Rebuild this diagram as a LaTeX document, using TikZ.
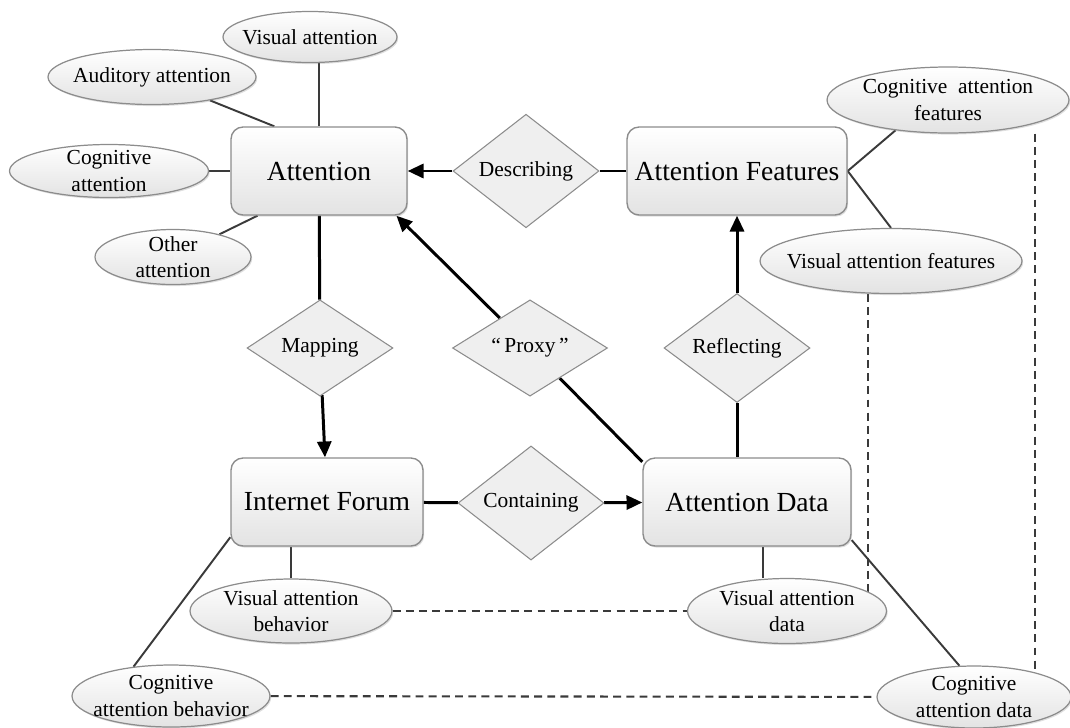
\documentclass[tikz,border=0pt]{standalone}
\usepackage{fontspec}
\setmainfont{Liberation Serif}
\usepackage{tikz}
\usetikzlibrary{shapes.geometric,arrows.meta,shadows,backgrounds}
\definecolor{edge}{HTML}{8C8C8C}
\definecolor{ink}{HTML}{3A3A3A}
\definecolor{dfill}{HTML}{EFEFEF}
\definecolor{sfill}{HTML}{E3E3E3}
\tikzset{
  entity/.style={rectangle, rounded corners=0.24cm, draw=edge, line width=0.8pt,
    top color=white, bottom color=sfill, minimum height=1.76cm, inner sep=0pt,
    font=\fontsize{15.7}{18}\selectfont,
    drop shadow={shadow xshift=0.7pt, shadow yshift=-0.9pt, opacity=0.25}},
  relation/.style={diamond, draw=edge, fill=dfill, line width=0.6pt,
    minimum width=2.92cm, minimum height=1.76cm, inner sep=0pt,
    font=\fontsize{12.2}{14}\selectfont},
  attr/.style={ellipse, draw=edge, line width=0.7pt, top color=white,
    bottom color=sfill, inner sep=0pt,
    drop shadow={shadow xshift=0.7pt, shadow yshift=-0.9pt, opacity=0.25}},
  attrtext/.style={align=center, inner sep=0pt, font=\fontsize{12.2}{15}\selectfont},
  link/.style={draw=ink, line width=1.1pt},
  relline/.style={draw=black, line width=1.7pt},
  relarrow/.style={relline, -{Triangle[length=9pt,width=8pt]}},
  dashline/.style={draw=ink, line width=1.2pt, dash pattern=on 4.5pt off 3pt}
}

\begin{document}
\begin{tikzpicture}[x=0.02cm, y=-0.02cm]
  \useasboundingbox (0,0) rectangle (1070,727);

  % entities
  \node[entity, minimum width=3.52cm] (attn)   at (319,171) {Attention};
  \node[entity, minimum width=4.4cm]  (feat)   at (737,171) {Attention Features};
  \node[entity, minimum width=3.84cm] (forum)  at (327,502) {Internet Forum};
  \node[entity, minimum width=4.16cm] (data)   at (747,502) {Attention Data};

  % relations
  \node[relation] (desc)  at (526,171) {Describing};
  \node[relation] (map)   at (320,348) {Mapping};
  \node[relation, minimum width=3.1cm] (proxy) at (530,348) {“\,Proxy\,”};
  \node[relation] (refl)  at (737,348) {Reflecting};
  \node[relation] (cont)  at (531,503) {Containing};

  % attributes
  \node[attr, minimum width=3.48cm, minimum height=1.02cm,
    label={[attrtext]center:Visual attention}] (visatt) at (310,37) {};
  \node[attr, minimum width=4.16cm, minimum height=1.1cm,
    label={[attrtext]center:Auditory attention}] (audatt) at (152,77) {};
  \node[attr, minimum width=3.98cm, minimum height=1.06cm,
    label={[attrtext]center:Cognitive\\attention}] (cogatt) at (109,171) {};
  \node[attr, minimum width=3.12cm, minimum height=1.1cm,
    label={[attrtext]center:Other\\attention}] (othatt) at (173,257) {};
  \node[attr, minimum width=4.84cm, minimum height=1.32cm,
    label={[attrtext]center:Cognitive~ attention\\features}] (cogfeat) at (948,100) {};
  \node[attr, minimum width=5.24cm, minimum height=1.3cm,
    label={[attrtext]center:Visual attention features}] (visfeat) at (891,261) {};
  \node[attr, minimum width=4.04cm, minimum height=1.28cm,
    label={[attrtext]center:Visual attention\\behavior}] (visbeh) at (291,611) {};
  \node[attr, minimum width=3.96cm, minimum height=1.24cm,
    label={[attrtext]center:Cognitive\\attention behavior}] (cogbeh) at (171,696) {};
  \node[attr, minimum width=3.98cm, minimum height=1.3cm,
    label={[attrtext]center:Visual attention\\data}] (visdat) at (787,611) {};
  \node[attr, minimum width=3.88cm, minimum height=1.24cm,
    label={[attrtext]center:Cognitive\\attention data}] (cogdat) at (974,697) {};

  \coordinate (dv) at (868,0);
  \coordinate (dc) at (1035,0);

  \begin{scope}[on background layer]
    % attribute links
    \draw[link] (attn.north) -- (attn.north |- visatt.south);
    \draw[link] (audatt) -- (attn.135);
    \draw[link] (cogatt) -- (attn);
    \draw[link] (othatt) -- (attn.216);
    \draw[link] (feat.east) -- (cogfeat.210);
    \draw[link] (feat.east) -- (visfeat.north);
    \draw[link] (visbeh.north) -- (visbeh.north |- forum.south);
    \draw[link] (forum.200) -- (cogbeh.142);
    \draw[link] (data.290) -- (data.290 |- visdat.north);
    \draw[link] (data.340) -- (cogdat.115);

    % relations
    \draw[relline] (feat) -- (desc);
    \draw[relarrow] (desc) -- (attn);
    \draw[relline] (attn) -- (map);
    \draw[relarrow] (map) -- (forum);
    \draw[relline] (forum) -- (cont);
    \draw[relarrow] (cont) -- (data);
    \draw[relline] (refl) -- (refl |- data.north);
    \draw[relarrow] (refl) -- (feat);
    \draw[relline] (data.159) -- (proxy);
    \draw[relarrow] (proxy) -- (attn.330);

    % dashed correspondences
    \draw[dashline] (visbeh) -- (visdat);
    \draw[dashline] (cogbeh) -- (cogdat);
    \draw[dashline] (visfeat.south -| dv) -- (dv |- visdat);
    \draw[dashline] (cogfeat.south -| dc) -- (dc |- cogdat);
  \end{scope}
\end{tikzpicture}
\end{document}
